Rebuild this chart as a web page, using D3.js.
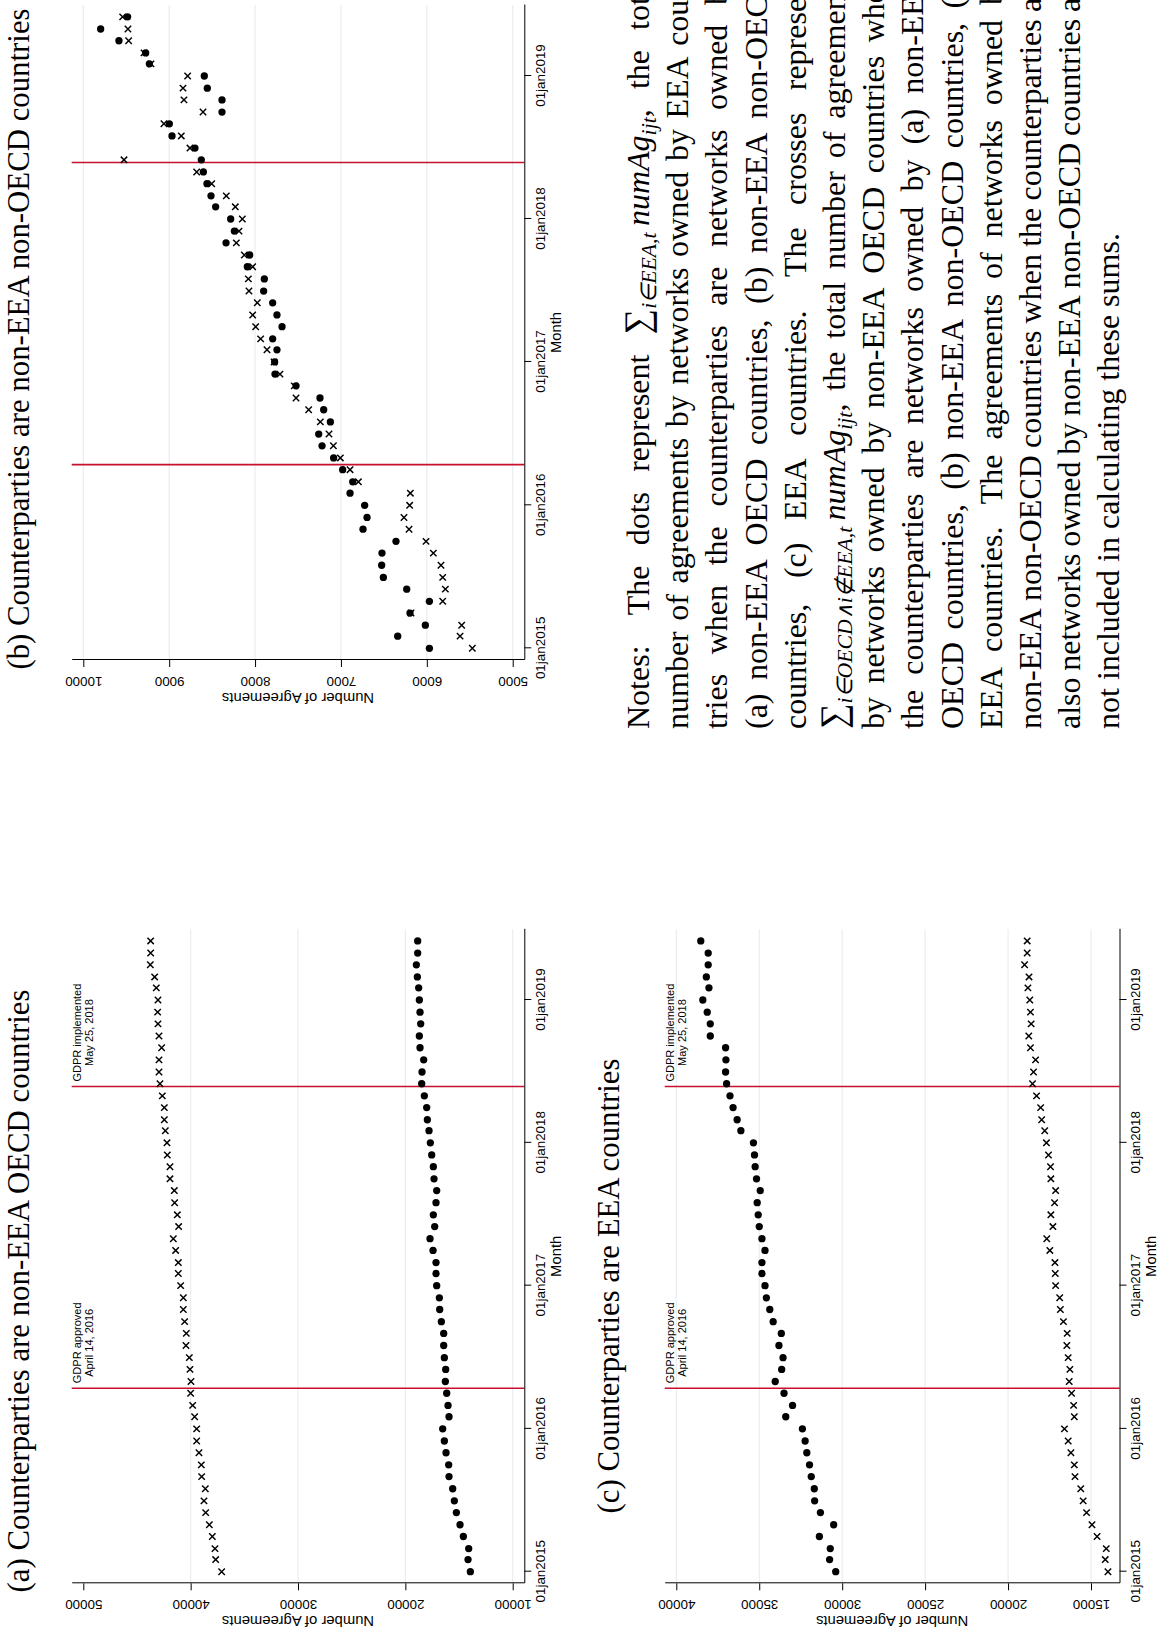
<!DOCTYPE html>
<html>
<head>
<meta charset="utf-8">
<script src="https://cdn.jsdelivr.net/npm/d3@7/dist/d3.min.js"></script>
<style>
html,body{margin:0;padding:0;background:#fff;}
svg{display:block;}
</style>
</head>
<body>
<svg id="chart" width="1159" height="1633" xmlns="http://www.w3.org/2000/svg"></svg>
<script>
// ---------------- DATA ----------------
const months = [
 "2015-01","2015-02","2015-03","2015-04","2015-05","2015-06","2015-07","2015-08","2015-09","2015-10","2015-11","2015-12",
 "2016-01","2016-02","2016-03","2016-04","2016-05","2016-06","2016-07","2016-08","2016-09","2016-10","2016-11","2016-12",
 "2017-01","2017-02","2017-03","2017-04","2017-05","2017-06","2017-07","2017-08","2017-09","2017-10","2017-11","2017-12",
 "2018-01","2018-02","2018-03","2018-04","2018-05","2018-06","2018-07","2018-08","2018-09","2018-10","2018-11","2018-12",
 "2019-01","2019-02","2019-03","2019-04","2019-05","2019-06"
];

// (a) Counterparties are non-EEA OECD countries
const aDots = [
 13944,14161,14099,14596,14907,15248,15435,15590,15932,15963,16211,16366,
 16522,15932,16025,16149,16273,16242,16366,16428,16428,16646,16801,16832,
 17081,17143,17143,17422,17702,17267,17391,17143,17081,17329,17391,17546,
 17671,17795,17950,18012,18230,18478,18447,18292,18633,18696,18571,18633,
 18696,18758,18882,18975,18851,18851
];
const aCrosses = [
 37112,37671,37733,37981,38261,38602,38758,38634,38975,39006,39224,39441,
 39441,39627,39814,40000,39969,40062,40124,40435,40404,40559,40683,40683,
 40932,41149,41149,41397,41615,41118,41242,41491,41522,41925,41925,42174,
 42205,42360,42453,42453,42640,42857,42950,42950,42702,42950,43043,43075,
 43043,43199,43354,43758,43727,43727
];

// (b) Counterparties are non-EEA non-OECD countries
const bDots = [
 5970,6339,6017,6196,5970,6234,6506,6526,6522,6359,6743,6696,
 6724,6894,6863,6980,7085,7220,7259,7123,7201,7244,7523,7768,
 7772,7745,7795,7686,7745,7795,7900,7892,8090,8063,8338,8241,
 8284,8459,8513,8560,8602,8626,8700,8967,8998,8385,8385,8556,
 8591,9231,9274,9585,9798,9484
];
const bCrosses = [
 5470,5613,5594,6184,5815,5784,5815,5835,5924,6009,6207,6266,
 6200,6192,6797,6894,7007,7088,7139,7240,7376,7523,7543,7710,
 7779,7861,7935,7993,8028,7974,8071,8078,8028,8125,8218,8187,
 8148,8230,8335,8505,8680,9526,8758,8859,9061,8606,8828,8839,
 8785,9212,9293,9472,9480,9542
];

// (c) Counterparties are EEA countries
const cDots = [
 30390,30759,30718,31374,30513,31312,31661,31681,31865,31968,32132,32234,
 32398,33402,32992,33505,34037,33648,33566,33812,33669,34160,34365,34570,
 34652,34837,34837,34652,34837,35000,35062,35123,34939,35164,35246,35287,
 35349,36107,36332,36578,36763,36967,37029,37008,37029,37951,37951,38135,
 38402,38032,38189,38077,38077,38524
];
const cCrosses = [
 13978,14141,14080,14633,14941,15268,15473,15617,15965,16006,16211,16375,
 16600,16006,16047,16170,16314,16273,16375,16457,16436,16662,16846,16887,
 17133,17154,17174,17481,17666,17297,17420,17195,17133,17420,17441,17563,
 17686,17789,17973,18035,18281,18527,18465,18342,18649,18752,18608,18649,
 18690,18803,18736,19004,18847,18847
];

const aTicks = [10000,20000,30000,40000,50000];
const bTicks = [5000,6000,7000,8000,9000,10000];
const cTicks = [15000,20000,25000,30000,35000,40000];
const xTickDates = ["2015-01-01","2016-01-01","2017-01-01","2018-01-01","2019-01-01"];

const eventDates = ["2016-04-14","2018-05-25"];
const eventLabels = [["GDPR approved","April 14, 2016"],["GDPR implemented","May 25, 2018"]];

const titles = [
 "(a) Counterparties are non-EEA OECD countries",
 "(b) Counterparties are non-EEA non-OECD countries",
 "(c) Counterparties are EEA countries"
];
const yAxisTitle = "Number of Agreements";
const xAxisTitle = "Month";

const noteLines = [
 "Notes: The dots represent {M1} the total",
 "number of agreements by networks owned by EEA coun-",
 "tries when the counterparties are networks owned by",
 "(a) non-EEA OECD countries, (b) non-EEA non-OECD",
 "countries, (c) EEA countries. The crosses represent",
 "{M2} the total number of agreements",
 "by networks owned by non-EEA OECD countries when",
 "the counterparties are networks owned by (a) non-EEA",
 "OECD countries, (b) non-EEA non-OECD countries, (c)",
 "EEA countries. The agreements of networks owned by",
 "non-EEA non-OECD countries when the counterparties are",
 "also networks owned by non-EEA non-OECD countries are",
 "not included in calculating these sums."
];
const mathTokens = {
 M1: [["\u2211",{fs:1.12}],["i\u2208EEA,t",{fs:0.68,it:true,dy:0.22}],["\u2009numAg",{it:true}],["ijt",{fs:0.68,it:true,dy:0.22}],[",",{}]],
 M2: [["\u2211",{fs:1.12}],["i\u2208OECD\u2227i\u2209EEA,t",{fs:0.68,it:true,dy:0.22}],["\u2009numAg",{it:true}],["ijt",{fs:0.68,it:true,dy:0.22}],[",",{}]]
};

// ---------------- LAYOUT / STYLE ----------------
const PAGE_W = 1159, PAGE_H = 1633;
const SANS = "'Liberation Sans', Arial, Helvetica, sans-serif";
const SERIF = "'Liberation Serif', 'Times New Roman', Times, serif";
const GRID = "#e7eef1";
const RED = "#c8102e";
const XLAB_OFF = 20.5, XTITLE_OFF = 36.5;

const svg = d3.select("#chart");
svg.append("rect").attr("width", PAGE_W).attr("height", PAGE_H).attr("fill", "#fff");
// page is a landscape page rotated by -90 degrees
const page = svg.append("g").attr("transform", `translate(0,${PAGE_H}) rotate(-90)`);

const parseM = d3.timeParse("%Y-%m");
const parseD = d3.timeParse("%Y-%m-%d");
const fmtTick = d => d3.timeFormat("%d")(d) + d3.timeFormat("%b")(d).toLowerCase() + d3.timeFormat("%Y")(d);

const panels = [
 {title: titles[0], dots: aDots, crosses: aCrosses, ticks: aTicks, noGrid: [50000], labels: true,
  x0: 49.7, x1: 703.7, yTop: 71.7, yBot: 524.3, tx0: 61.3, tx1: 633.0,
  v0: 50000, p0: 83.3, v1: 10000, p1: 512.7, titleX: 342, titleY: 29},
 {title: titles[1], dots: bDots, crosses: bCrosses, ticks: bTicks, noGrid: [], labels: false,
  x0: 973, x1: 1628, yTop: 71.7, yBot: 524.3, tx0: 984.7, tx1: 1557,
  v0: 10000, p0: 83.3, v1: 5000, p1: 512.7, titleX: 1294, titleY: 29},
 {title: titles[2], dots: cDots, crosses: cCrosses, ticks: cTicks, noGrid: [], labels: true,
  x0: 49.7, x1: 703.7, yTop: 664.7, yBot: 1119.5, tx0: 61.3, tx1: 633.0,
  v0: 40000, p0: 676.3, v1: 15000, p1: 1091, titleX: 347, titleY: 619}
];

function drawPanel(cfg) {
  const g = page.append("g");
  const x = d3.scaleTime().domain([parseD(xTickDates[0]), parseD(xTickDates[xTickDates.length-1])]).range([cfg.tx0, cfg.tx1]);
  x.domain([x.invert(cfg.x0), x.invert(cfg.x1)]).range([cfg.x0, cfg.x1]);
  const y = d3.scaleLinear().domain([cfg.v0, cfg.v1]).range([cfg.p0, cfg.p1]);
  y.domain([y.invert(cfg.yTop), y.invert(cfg.yBot)]).range([cfg.yTop, cfg.yBot]);

  // gridlines
  g.append("g").selectAll("line")
    .data(cfg.ticks.filter(v => !cfg.noGrid.includes(v)))
    .join("line")
    .attr("x1", cfg.x0).attr("x2", cfg.x1)
    .attr("y1", d => y(d)).attr("y2", d => y(d))
    .attr("stroke", GRID).attr("stroke-width", 1.2);

  // event lines
  g.append("g").selectAll("line")
    .data(eventDates.map(parseD))
    .join("line")
    .attr("x1", d => x(d)).attr("x2", d => x(d))
    .attr("y1", cfg.yTop).attr("y2", cfg.yBot)
    .attr("stroke", RED).attr("stroke-width", 1.6);

  // event labels
  if (cfg.labels) {
    eventDates.forEach((ds, i) => {
      const xe = x(parseD(ds));
      const t = g.append("text").attr("font-family", SANS).attr("font-size", 11).attr("fill", "#000");
      const l1 = t.append("tspan").text(eventLabels[i][0]);
      const w = l1.node().getComputedTextLength();
      const cx = xe + 5 + w / 2;
      t.attr("text-anchor", "middle");
      l1.attr("x", cx).attr("y", cfg.yTop + 9.5);
      t.append("tspan").attr("x", cx).attr("y", cfg.yTop + 21.5).text(eventLabels[i][1]);
    });
  }

  const rows = months.map((m, i) => ({date: parseM(m), dot: cfg.dots[i], cross: cfg.crosses[i]}));

  // crosses
  g.append("g").selectAll("path")
    .data(rows)
    .join("path")
    .attr("transform", d => `translate(${x(d.date)},${y(d.cross)})`)
    .attr("d", "M-3.2,-3.2L3.2,3.2M-3.2,3.2L3.2,-3.2")
    .attr("stroke", "#000").attr("stroke-width", 1.45).attr("fill", "none");

  // dots
  g.append("g").selectAll("circle")
    .data(rows)
    .join("circle")
    .attr("cx", d => x(d.date)).attr("cy", d => y(d.dot))
    .attr("r", 3.65).attr("fill", "#000");

  // y axis
  const ya = g.append("g").attr("transform", `translate(${cfg.x0},0)`)
    .call(d3.axisLeft(y).tickValues(cfg.ticks).tickSize(7).tickSizeOuter(0).tickFormat(d3.format("d")));
  ya.select(".domain").attr("stroke", "#000").attr("stroke-width", 1);
  ya.selectAll(".tick line").attr("stroke", "#000").attr("stroke-width", 1);
  ya.selectAll(".tick text")
    .attr("x", null).attr("dy", null)
    .attr("transform", "translate(-17,0) rotate(-90)")
    .attr("text-anchor", "middle")
    .attr("font-family", SANS).attr("font-size", 13.4).attr("fill", "#000");

  // x axis
  const xa = g.append("g").attr("transform", `translate(0,${cfg.yBot})`)
    .call(d3.axisBottom(x).tickValues(xTickDates.map(parseD)).tickSize(7).tickSizeOuter(0).tickFormat(fmtTick));
  xa.select(".domain").attr("stroke", "#000").attr("stroke-width", 1);
  xa.selectAll(".tick line").attr("stroke", "#000").attr("stroke-width", 1);
  xa.selectAll(".tick text")
    .attr("y", XLAB_OFF).attr("dy", null)
    .attr("font-family", SANS).attr("font-size", 13.4).attr("fill", "#000");

  // axis titles
  g.append("text")
    .attr("transform", `translate(${cfg.x0 - 33},${(cfg.yTop + cfg.yBot) / 2}) rotate(-90)`)
    .attr("text-anchor", "middle").attr("font-family", SANS).attr("font-size", 14.8).attr("fill", "#000")
    .text(yAxisTitle);
  g.append("text")
    .attr("x", (cfg.x0 + cfg.x1) / 2).attr("y", cfg.yBot + XTITLE_OFF)
    .attr("text-anchor", "middle").attr("font-family", SANS).attr("font-size", 14.8).attr("fill", "#000")
    .text(xAxisTitle);

  // panel title
  page.append("text")
    .attr("x", cfg.titleX).attr("y", cfg.titleY)
    .attr("text-anchor", "middle").attr("font-family", SERIF).attr("font-size", 30.8).attr("fill", "#000")
    .text(cfg.title);
}

panels.forEach(drawPanel);

// ---------------- NOTES ----------------
const NOTE_FS = 32, NOTE_X0 = 904, NOTE_Y0 = 649, NOTE_DY = 39.2, NOTE_W = 756;
const notes = page.append("g").attr("font-family", SERIF).attr("font-size", NOTE_FS).attr("fill", "#000");

function makeWord(w) {
  const t = notes.append("text");
  const m = w.match(/^\{(M\d)\}$/);
  if (m) {
    mathTokens[m[1]].forEach(([s, o]) => {
      const ts = t.append("tspan").text(s)
        .attr("font-size", (o.fs || 1) * NOTE_FS)
        .attr("y", (o.dy || 0) * NOTE_FS);
      if (o.it) ts.attr("font-style", "italic");
    });
  } else {
    t.text(w);
  }
  return t;
}

noteLines.forEach((line, li) => {
  const words = line.split(" ");
  const baseline = NOTE_Y0 + li * NOTE_DY;
  const els = words.map(makeWord);
  const widths = els.map(e => e.node().getComputedTextLength());
  const weights = words.slice(0, -1).map(w => /[.:]$/.test(w) ? 1.5 : (/,$/.test(w) ? 1.15 : 1));
  const total = d3.sum(widths);
  const last = li === noteLines.length - 1;
  const base = last ? NOTE_FS * 0.25 : (NOTE_W - total) / d3.sum(weights);
  let xp = NOTE_X0;
  els.forEach((e, i) => {
    e.attr("transform", `translate(${xp},${baseline})`);
    xp += widths[i] + (i < weights.length ? base * weights[i] : 0);
  });
});
</script>
</body>
</html>
